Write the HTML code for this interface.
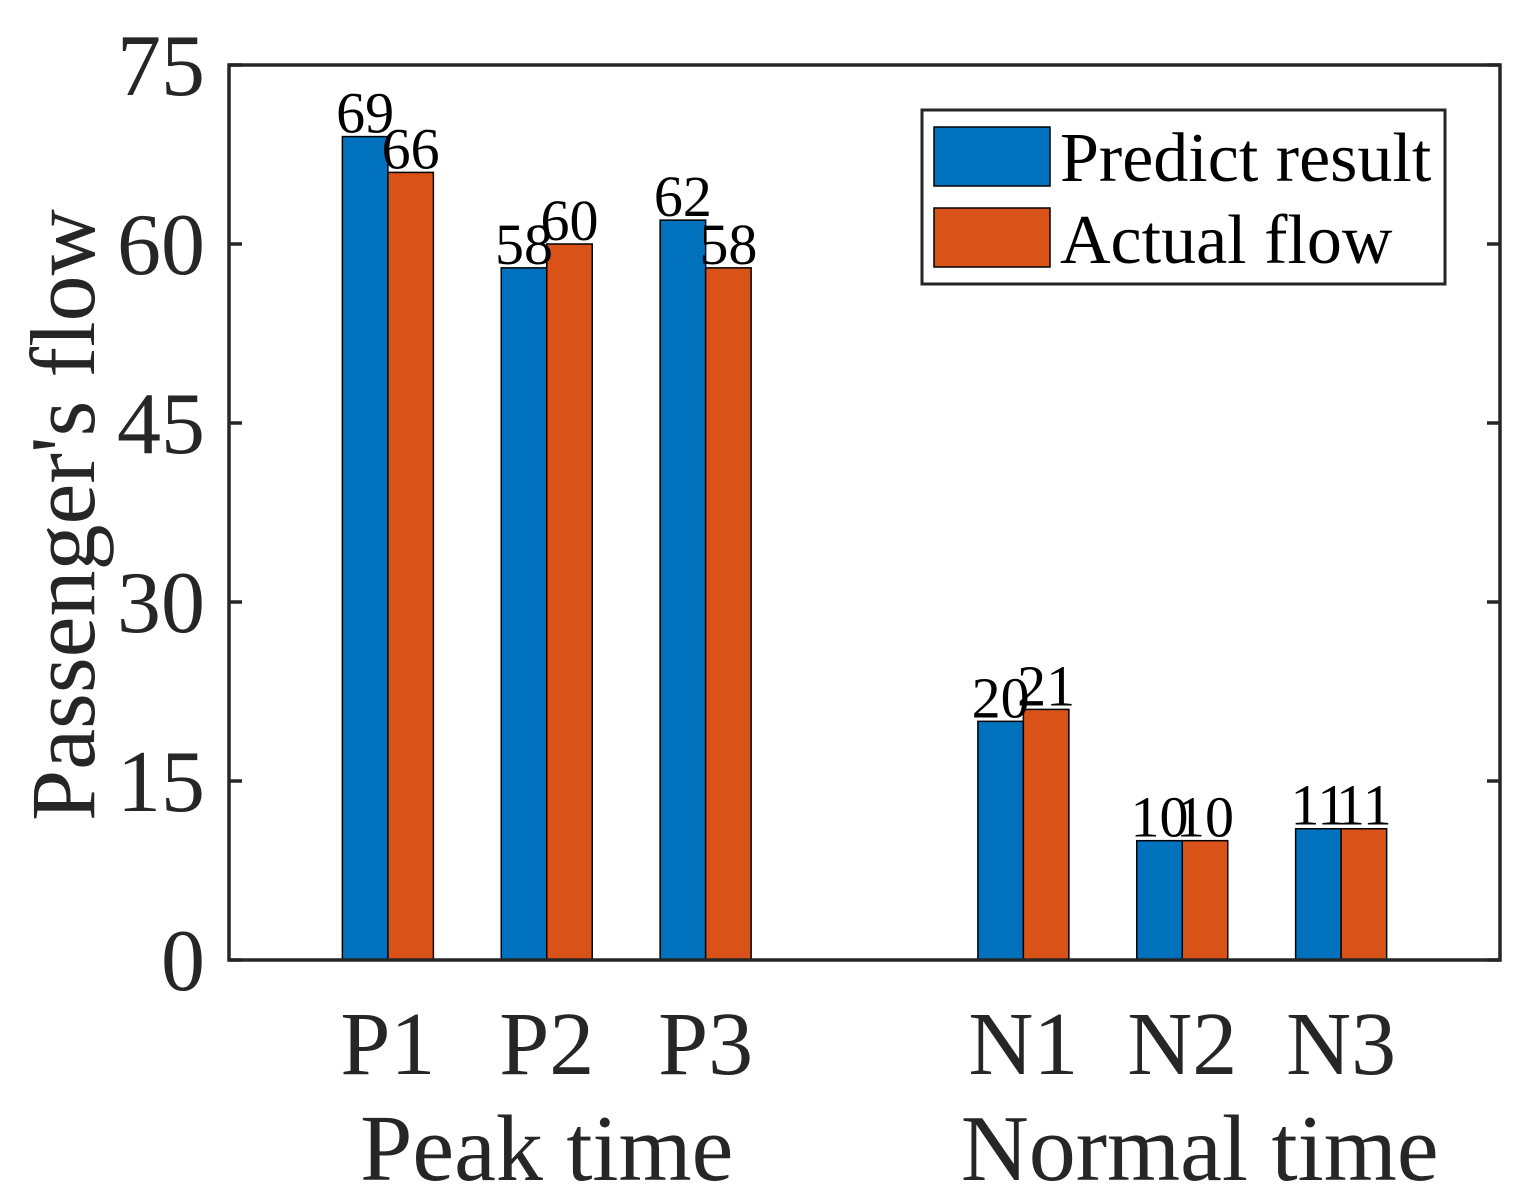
<!DOCTYPE html>
<html><head><meta charset="utf-8"><style>
html,body{margin:0;padding:0;background:#fff;}
svg{display:block;font-family:"Liberation Serif",serif;}
</style></head><body>
<svg id="chart" width="1519" height="1203" viewBox="0 0 1519 1203" xmlns="http://www.w3.org/2000/svg"></svg>
<script>
const categories = ["P1","P2","P3","N1","N2","N3"];
const categoryPositions = [1,2,3,5,6,7];
const predictValues = [69,58,62,20,10,11];
const actualValues = [66,60,58,21,10,11];
const yTicks = [0,15,30,45,60,75];
const groupLabels = ["Peak time","Normal time"];
const groupCenters = [2,6.11];

const svg = document.getElementById('chart');
const NS = "http://www.w3.org/2000/svg";
const L=229,R=1500,T=65,B=960;
const xMin=0,xMax=8,yMin=0,yMax=75;
const xS = v => L + (v-xMin)/(xMax-xMin)*(R-L);
const yS = v => B - (v-yMin)/(yMax-yMin)*(B-T);
const barW = 45.5;
const axisColor = "#262626";
function mk(tag, attrs, text){
  const e = document.createElementNS(NS, tag);
  for (const k in attrs) e.setAttribute(k, attrs[k]);
  if (text !== undefined) e.textContent = text;
  svg.appendChild(e);
  return e;
}
categories.forEach((c,i)=>{
  const cx = xS(categoryPositions[i]);
  const b1 = mk('rect',{x:cx-barW,y:yS(predictValues[i]),width:barW,height:yS(0)-yS(predictValues[i]),fill:'#0072BD',stroke:'#000','stroke-width':1.5});
  
  
  const b2 = mk('rect',{x:cx,y:yS(actualValues[i]),width:barW,height:yS(0)-yS(actualValues[i]),fill:'#D95319',stroke:'#000','stroke-width':1.5});
  
  
  const t1 = mk('text',{x:cx-barW/2,y:yS(predictValues[i])-4,'text-anchor':'middle','font-size':58,fill:'#000'},String(predictValues[i]));
  
  
  const t2 = mk('text',{x:cx+barW/2,y:yS(actualValues[i])-4,'text-anchor':'middle','font-size':58,fill:'#000'},String(actualValues[i]));
  
  
  const xl = mk('text',{x:cx,y:1074,'text-anchor':'middle','font-size':90,fill:axisColor},c);
  
  
});
const box = mk('rect',{x:L,y:T,width:R-L,height:B-T,fill:'none',stroke:axisColor,'stroke-width':3.5});


yTicks.forEach(v=>{
  const y = yS(v);
  const t1 = mk('line',{x1:L,x2:L+13,y1:y,y2:y,stroke:axisColor,'stroke-width':3.5});
  
  
  const t2 = mk('line',{x1:R-13,x2:R,y1:y,y2:y,stroke:axisColor,'stroke-width':3.5});
  
  
  const lb = mk('text',{x:205,y:y+30,'text-anchor':'end','font-size':88,fill:axisColor},String(v));
  
  
});
groupLabels.forEach((g,i)=>{
  const t = mk('text',{x:xS(groupCenters[i]),y:1180,'text-anchor':'middle','font-size':94,fill:axisColor},g);
  
  
});
const yt = mk('text',{x:0,y:0,transform:'translate(94,515) rotate(-90)','text-anchor':'middle','font-size':92,fill:axisColor},"Passenger's flow");


const lg = mk('rect',{x:922,y:110,width:523,height:174,fill:'#fff',stroke:axisColor,'stroke-width':3});


const s1 = mk('rect',{x:934,y:127,width:116,height:59,fill:'#0072BD',stroke:'#000','stroke-width':1.5});


const l1 = mk('text',{x:1060,y:181,'font-size':70,fill:'#000'},"Predict result");


const s2 = mk('rect',{x:934,y:208,width:116,height:59,fill:'#D95319',stroke:'#000','stroke-width':1.5});


const l2 = mk('text',{x:1060,y:263,'font-size':70,fill:'#000'},"Actual flow");


</script>
</body></html>
